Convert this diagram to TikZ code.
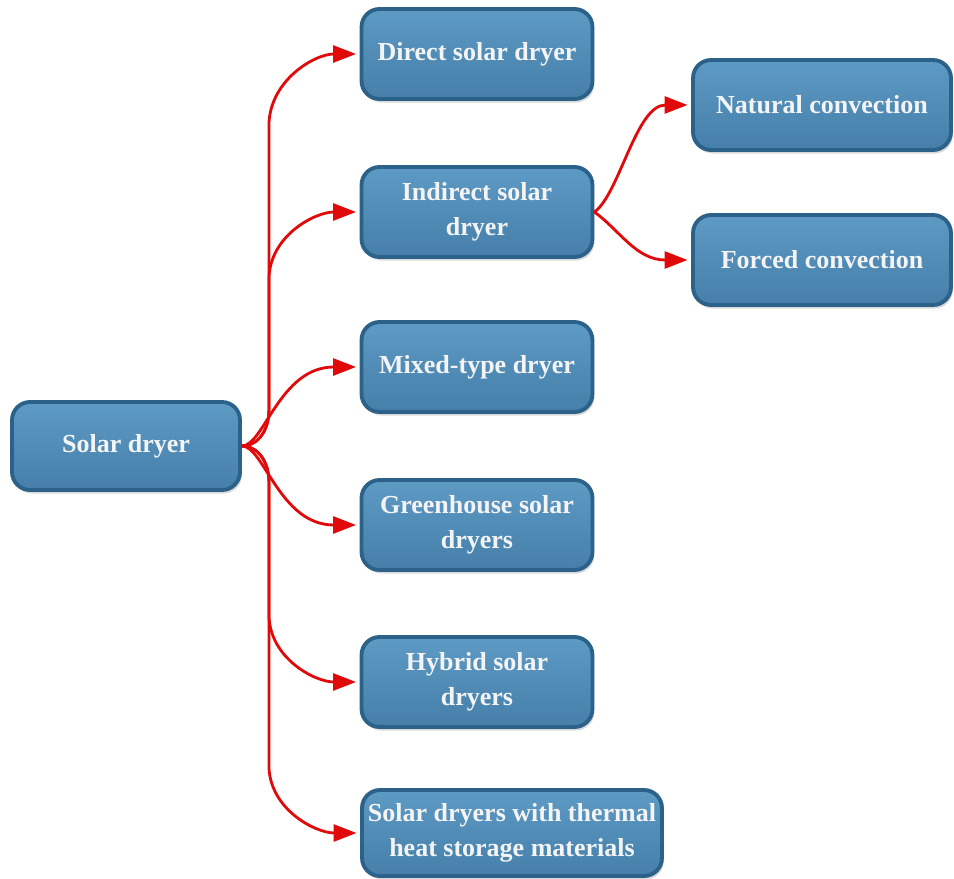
\documentclass[tikz,border=0pt]{standalone}
\usepackage{fontspec}
\setmainfont{Liberation Serif}
\usetikzlibrary{arrows.meta,calc,shadows}
\definecolor{boxtop}{HTML}{5D9AC4}
\definecolor{boxbot}{HTML}{457FAA}
\definecolor{boxline}{HTML}{2C6289}
\definecolor{arrred}{HTML}{E00A0A}
\definecolor{txt}{HTML}{F4F4F4}
\begin{document}
\begin{tikzpicture}[x=0.02cm,y=0.02cm,
  box/.style={rounded corners=0.36cm, draw=boxline, line width=2.2pt,
    top color=boxtop, bottom color=boxbot, text=txt,
    font=\bfseries\fontsize{14.8}{20}\selectfont, align=center,
    minimum width=4.62cm, minimum height=1.8cm, inner sep=2pt,
    drop shadow={shadow xshift=1pt,shadow yshift=-2pt,opacity=0.3}},
  arr/.style={draw=arrred, line width=1.6pt, shorten >=2pt,
    -{Triangle[length=0.46cm,width=0.34cm]}}]
\useasboundingbox (0,0) rectangle (954,-879);

\node[box, minimum width=4.56cm, minimum height=1.76cm] (root) at (126,-446) {Solar dryer};
\node[box] (direct) at (477,-54) {Direct solar dryer};
\node[box] (indirect) at (477,-212) {Indirect solar\\dryer};
\node[box] (mixed) at (477,-367) {Mixed-type dryer};
\node[box] (green) at (477,-525) {Greenhouse solar\\dryers};
\node[box] (hybrid) at (477,-682) {Hybrid solar\\dryers};
\node[box, minimum width=6cm, minimum height=1.72cm] (thermal) at (512,-833) {Solar dryers with thermal\\heat storage materials};
\node[box, minimum width=5.16cm] (natural) at (822,-105) {Natural convection};
\node[box, minimum width=5.16cm] (forced) at (822,-260) {Forced convection};

\coordinate (trunk) at ($(root.east)+(27,0)$);

\draw[arr] (root.east) to[out=0,in=-90] ($(trunk)+(0,35)$) -- ($(trunk|-direct.west)+(0,-72)$) to[out=90,in=180] (direct.west);
\draw[arr] (root.east) to[out=0,in=-90] ($(trunk)+(0,35)$) -- ($(trunk|-indirect.west)+(0,-68)$) to[out=90,in=180] (indirect.west);
\draw[arr] (root.east) .. controls +(22,0) and +(-80,0) .. (mixed.west);
\draw[arr] (root.east) .. controls +(22,0) and +(-80,0) .. (green.west);
\draw[arr] (root.east) to[out=0,in=90] ($(trunk)+(0,-35)$) -- ($(trunk|-hybrid.west)+(0,68)$) to[out=-90,in=180] (hybrid.west);
\draw[arr] (root.east) to[out=0,in=90] ($(trunk)+(0,-35)$) -- ($(trunk|-thermal.west)+(0,68)$) to[out=-90,in=180] (thermal.west);

\draw[arr] (indirect.east) .. controls +(25,18) and +(-55,0) .. (natural.west);
\draw[arr] (indirect.east) .. controls +(25,-18) and +(-55,0) .. (forced.west);
\end{tikzpicture}
\end{document}
